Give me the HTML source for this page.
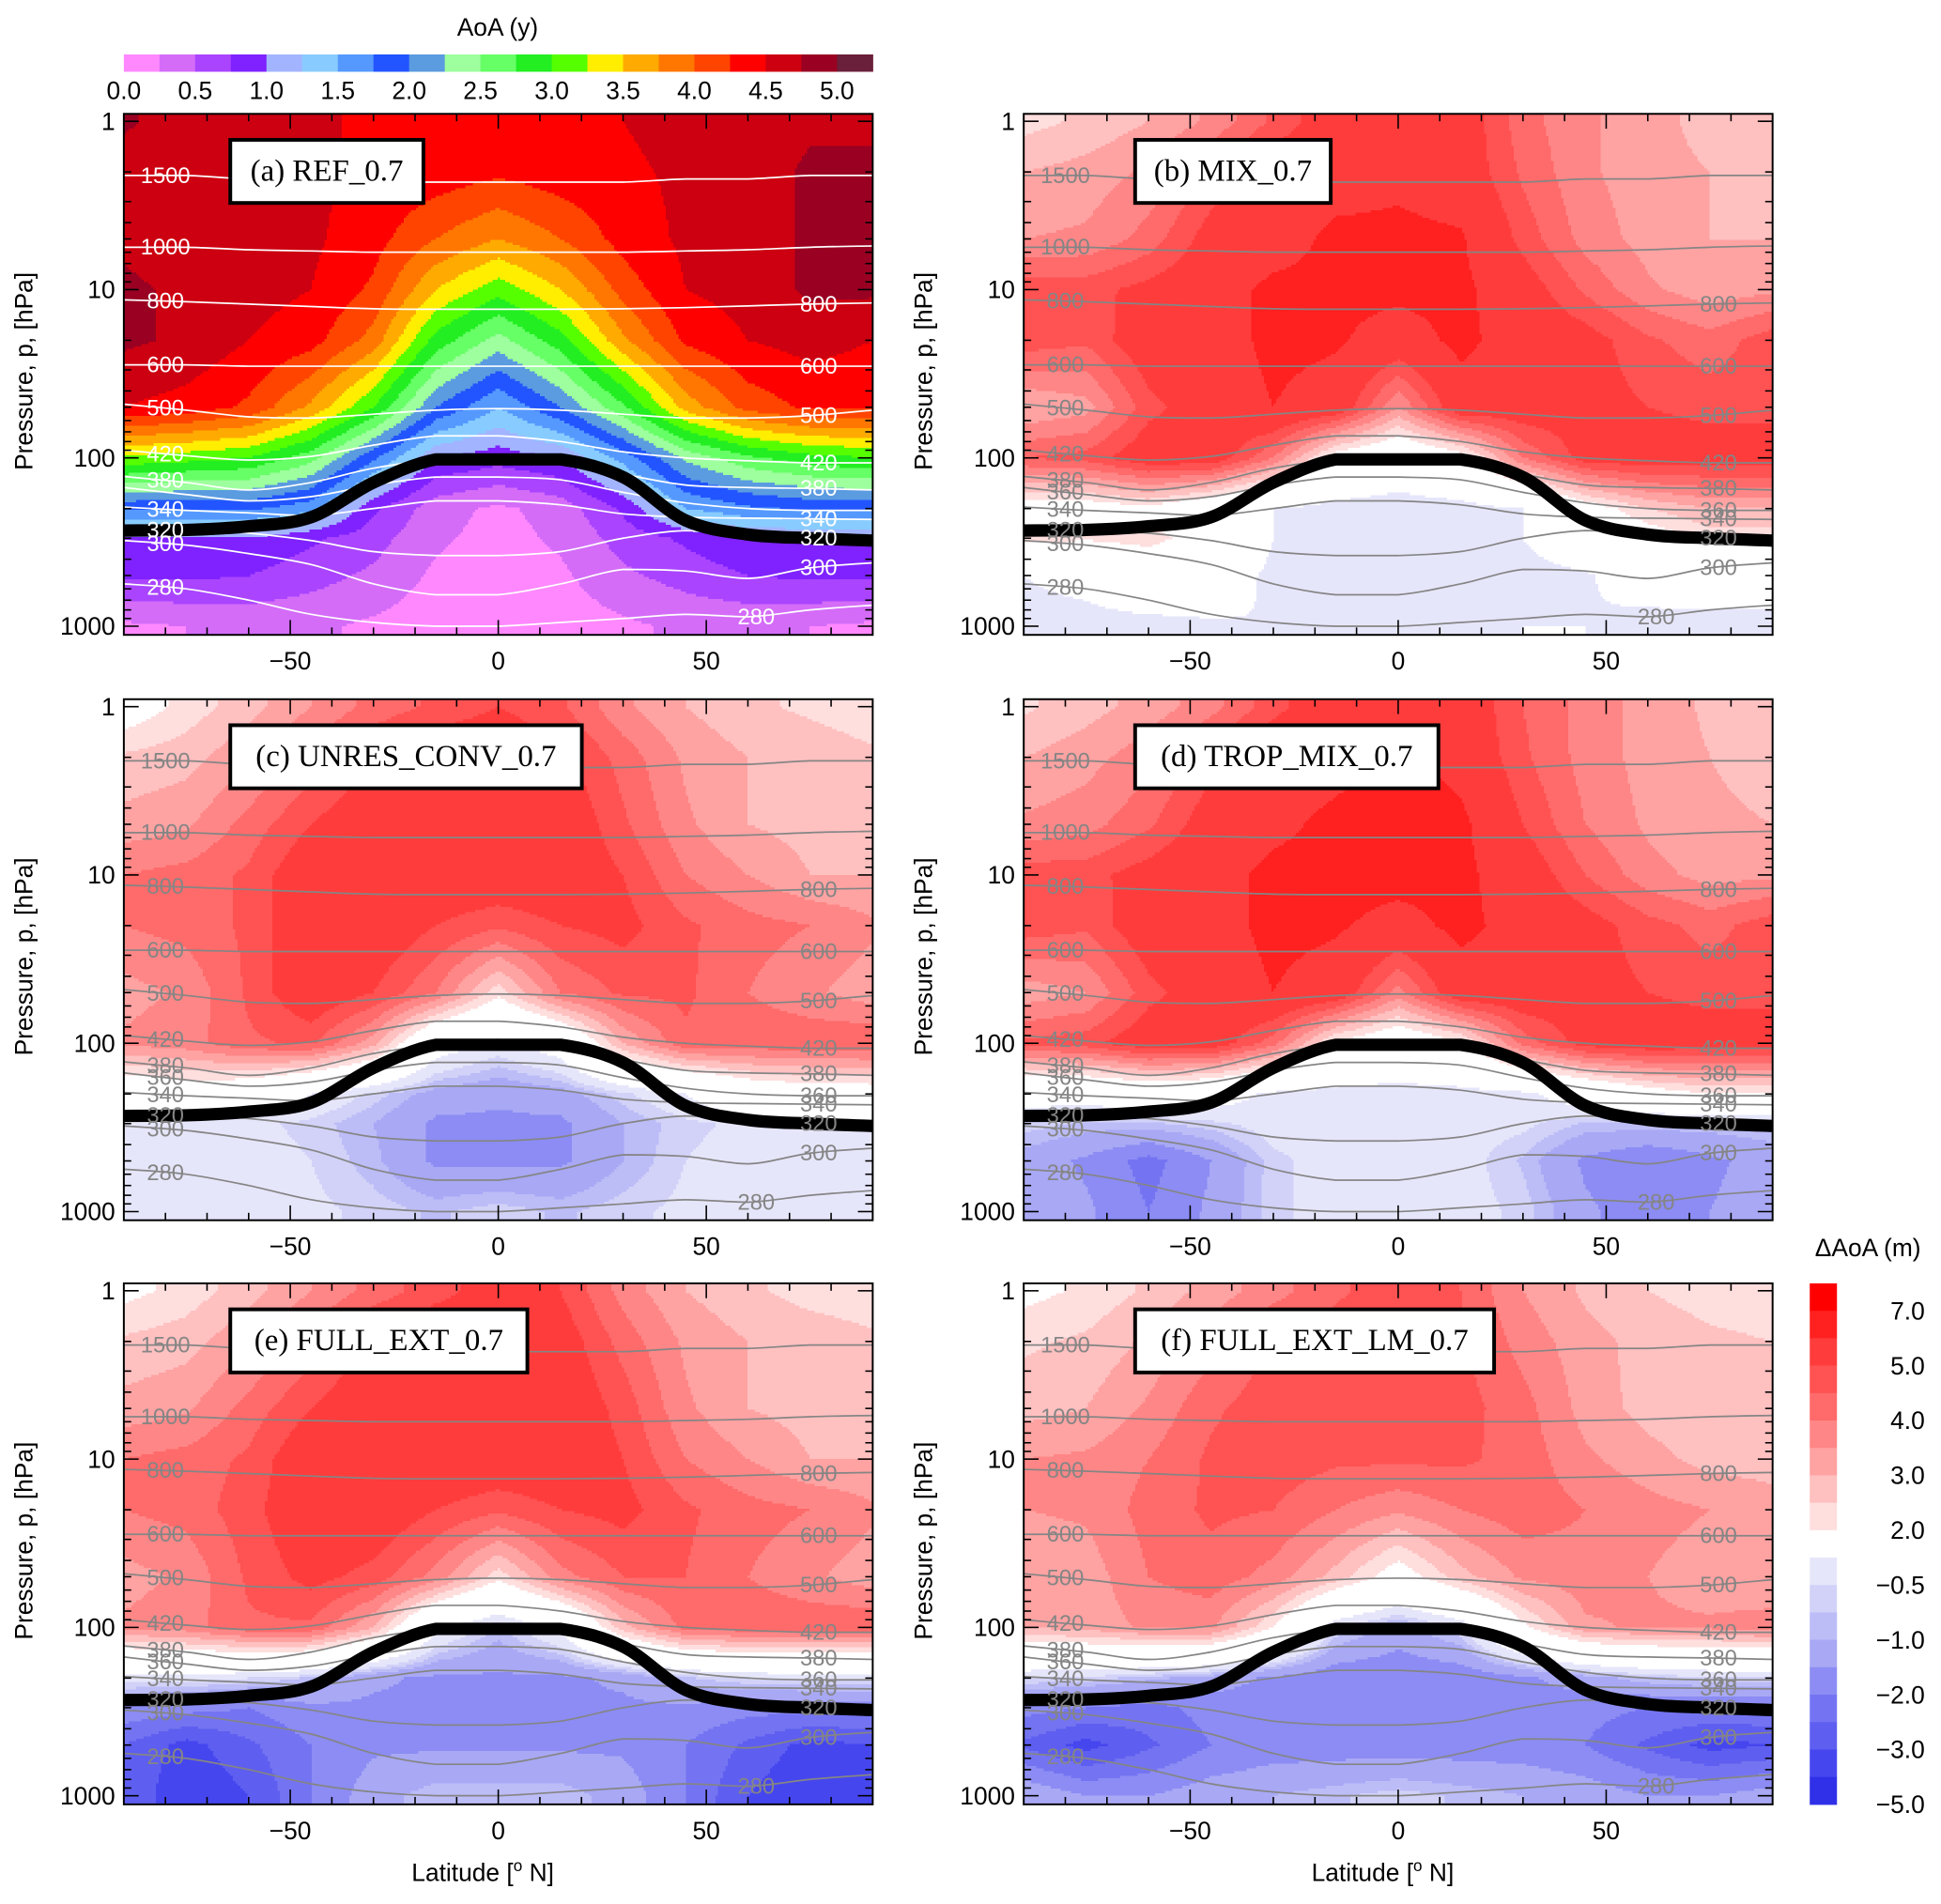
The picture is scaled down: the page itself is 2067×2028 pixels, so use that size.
<!DOCTYPE html>
<html><head><meta charset="utf-8"><style>
html,body{margin:0;padding:0;background:#fff;}
svg{display:block;font-family:"Liberation Sans",sans-serif;}
</style></head><body>
<svg id="fig" width="2067" height="2028" viewBox="0 0 1568 1538.5" xmlns="http://www.w3.org/2000/svg">
<defs></defs>
</svg>
<script>
const LATS=[-90,-75,-60,-45,-30,-15,0,15,30,45,60,75,90];
const PLEV=[1,2,5,10,20,50,100,200,300,500,1000];
const aoaGrid=[
[4.8,4.6,4.6,4.6,4.4,4.4,4.4,4.4,4.5,4.6,4.6,4.7,4.7],
[4.6,4.6,4.6,4.55,4.45,4.4,4.3,4.4,4.45,4.55,4.6,4.8,4.8],
[4.7,4.6,4.6,4.55,4.35,4.0,3.75,4.0,4.35,4.55,4.6,4.8,4.8],
[4.8,4.7,4.6,4.5,4.2,3.5,3.1,3.5,4.1,4.5,4.6,4.8,4.8],
[4.8,4.7,4.5,4.35,3.9,2.9,2.4,2.9,3.7,4.3,4.5,4.6,4.5],
[4.5,4.4,4.2,3.7,3.0,2.0,1.5,2.0,2.7,3.6,4.1,4.3,4.3],
[3.2,3.1,3.0,2.6,1.8,1.0,0.85,1.0,1.6,2.3,2.7,2.9,3.0],
[1.8,1.8,1.8,1.6,0.8,0.35,0.2,0.35,0.8,1.5,1.7,1.8,1.8],
[1.0,1.0,1.0,0.8,0.6,0.3,0.15,0.3,0.6,0.8,1.0,1.0,1.0],
[0.8,0.8,0.75,0.6,0.45,0.2,0.1,0.2,0.45,0.6,0.75,0.8,0.8],
[0.2,0.25,0.3,0.3,0.2,0.1,0.05,0.1,0.2,0.3,0.3,0.25,0.2]];
const gridB=[
[2.3,2.6,3.0,3.6,4.6,5.5,5.7,5.5,4.2,3.6,3.2,2.8,2.6],
[3.0,3.2,3.6,4.6,5.5,5.6,5.8,5.5,4.4,3.6,3.2,3.0,2.8],
[3.5,3.6,4.2,5.3,5.6,6.2,6.2,6.1,4.8,3.8,3.3,3.0,3.0],
[4.8,4.8,5.2,5.6,6.2,6.2,6.2,6.2,5.4,4.4,3.6,3.2,3.4],
[4.8,4.6,5.5,5.6,6.2,6.1,5.6,6.2,5.6,5.3,4.6,4.2,4.8],
[3.0,3.3,4.8,5.5,6.0,5.6,3.5,5.6,5.5,5.3,5.0,4.8,4.8],
[4.5,4.7,5.5,5.5,4.0,1.5,0.8,1.5,4.0,5.3,5.5,5.4,5.4],
[1.5,1.5,1.8,1.0,0,-0.3,-0.4,-0.3,0,1.5,2.5,3.0,3.0],
[2.3,2.1,2.3,1.5,0,-0.3,-0.4,-0.3,0,0.8,1.5,2.2,2.2],
[0,0.3,1.0,0.6,-0.2,-0.3,-0.4,-0.3,-0.3,-0.1,0.5,0.6,0.6],
[-0.3,-0.3,-0.3,-0.1,0,-0.2,-0.1,-0.2,0,0,-0.3,-0.3,-0.3]];
const gridC=[
[1.5,2.2,2.8,3.5,4.2,4.6,5.0,4.6,3.6,3.0,2.6,2.4,2.2],
[2.6,2.8,3.4,4.2,5.0,5.6,5.6,5.2,4.3,3.4,3.0,2.8,2.6],
[3.2,3.4,4.2,5.0,5.6,5.6,5.6,5.6,4.6,3.6,3.0,2.8,2.6],
[4.0,4.2,4.6,5.6,5.6,5.6,5.6,5.6,5.0,4.0,3.5,3.0,3.0],
[4.0,4.2,4.6,5.6,5.6,5.0,4.6,5.0,5.2,4.6,4.2,4.0,3.6],
[3.3,3.6,4.6,5.6,5.0,4.0,2.2,4.0,4.6,4.6,4.0,3.6,3.2],
[3.6,3.8,4.4,4.6,3.2,0.5,-0.2,0.5,3.0,4.4,4.4,4.4,4.5],
[1.0,1.3,1.0,0,-0.6,-1.2,-1.4,-1.2,-0.6,0,1.0,1.4,1.4],
[0,-0.2,-0.4,-0.6,-1.0,-1.6,-1.6,-1.6,-1.0,-0.6,-0.4,-0.2,-0.2],
[-0.3,-0.3,-0.3,-0.5,-0.9,-1.6,-1.6,-1.6,-1.0,-0.5,-0.3,-0.3,-0.3],
[-0.3,-0.3,-0.3,-0.4,-0.6,-0.8,-0.6,-0.8,-0.6,-0.4,-0.3,-0.3,-0.3]];
const gridD=[
[2.4,2.8,3.2,3.8,4.8,5.6,5.8,5.6,4.5,3.8,3.3,2.9,2.6],
[3.0,3.3,3.8,4.8,5.6,5.7,6.2,5.7,4.6,3.8,3.3,3.0,2.8],
[3.6,3.8,4.4,5.4,5.8,6.2,6.5,6.2,5.0,4.0,3.4,3.1,3.0],
[4.8,4.8,5.3,5.7,6.2,6.3,6.3,6.2,5.5,4.5,3.7,3.3,3.4],
[4.8,4.6,5.5,5.7,6.2,6.1,5.7,6.2,5.7,5.3,4.7,4.3,4.8],
[3.2,3.5,4.8,5.5,6.0,5.6,3.8,5.6,5.6,5.3,5.0,4.8,4.8],
[4.6,4.8,5.5,5.5,4.2,1.8,1.0,1.8,4.2,5.3,5.5,5.4,5.4],
[0.5,0.5,0.8,0.5,-0.2,-0.3,-0.3,-0.3,-0.2,0.6,1.5,2.0,2.0],
[-0.6,-0.8,-0.8,-0.6,-0.3,-0.3,-0.3,-0.3,-0.4,-0.8,-0.8,-0.8,-0.7],
[-1.2,-1.6,-2.2,-1.5,-0.6,-0.3,-0.3,-0.3,-0.8,-1.6,-2.0,-1.6,-1.3],
[-1.0,-1.4,-2.0,-1.4,-0.6,-0.3,-0.3,-0.3,-0.6,-1.4,-1.8,-1.5,-1.2]];
const gridE=[
[1.8,2.2,2.8,3.5,4.2,4.8,5.3,5.0,3.8,3.0,2.6,2.3,2.2],
[2.6,2.8,3.4,4.2,5.2,5.6,5.6,5.4,4.3,3.4,3.0,2.8,2.6],
[3.2,3.4,4.2,5.0,5.6,5.6,5.6,5.6,4.8,3.6,3.0,2.8,2.6],
[4.0,4.2,4.6,5.6,5.7,5.7,5.6,5.6,5.0,4.0,3.5,3.0,3.0],
[4.0,4.2,4.8,5.6,5.6,5.0,4.6,5.0,5.2,4.6,4.2,4.0,3.6],
[3.3,3.6,4.6,5.2,4.8,3.8,2.2,3.8,4.5,4.5,4.0,3.6,3.2],
[3.6,3.8,4.4,4.4,3.0,0.2,-0.8,0.2,2.8,4.2,4.4,4.4,4.5],
[-0.3,-0.3,-0.5,-0.8,-1.4,-1.6,-1.6,-1.6,-1.4,-0.8,-0.5,-0.4,-0.4],
[-1.6,-1.8,-2.0,-1.6,-1.6,-1.6,-1.6,-1.6,-1.6,-1.6,-1.8,-1.8,-1.8],
[-2.5,-3.2,-2.6,-2.0,-1.6,-1.6,-1.6,-1.6,-1.6,-2.0,-2.6,-3.2,-3.0],
[-2.5,-3.5,-3.0,-2.0,-1.2,-0.8,-0.8,-0.8,-1.2,-2.0,-3.0,-3.5,-3.0]];
const gridF=[
[1.8,2.1,2.6,3.2,3.8,4.4,4.8,4.5,3.5,2.9,2.5,2.3,2.2],
[2.4,2.6,3.1,3.8,4.6,4.8,4.8,4.6,3.8,3.2,2.8,2.6,2.5],
[2.8,3.0,3.6,4.4,4.8,4.8,4.8,4.7,4.2,3.3,2.8,2.6,2.5],
[3.5,3.6,4.0,4.6,4.8,4.6,4.6,4.6,4.3,3.6,3.2,2.8,2.8],
[3.5,3.6,4.2,4.6,4.5,4.0,3.6,4.0,4.3,4.0,3.7,3.5,3.2],
[3.0,3.2,4.0,4.3,3.8,2.8,1.5,2.8,3.6,3.8,3.5,3.2,3.0],
[3.0,3.2,3.6,3.6,2.0,-0.5,-1.2,-0.5,1.8,3.4,3.6,3.6,3.8],
[-0.5,-0.6,-0.9,-1.2,-1.6,-1.9,-1.9,-1.9,-1.6,-1.2,-0.8,-0.6,-0.6],
[-1.8,-2.0,-2.2,-1.8,-1.8,-1.8,-1.8,-1.8,-1.8,-1.8,-2.0,-2.0,-2.0],
[-2.6,-3.2,-2.6,-2.0,-1.8,-1.8,-1.8,-1.8,-1.8,-2.0,-2.6,-3.2,-3.0],
[-1.0,-1.5,-1.5,-1.2,-1.0,-0.8,-0.6,-0.8,-1.0,-1.2,-1.5,-1.5,-1.2]];
const thetaLevels=[1500,1000,800,600,500,420,380,360,340,320,300,280];
const thetaP=[
[2.1,2.1,2.2,2.2,2.3,2.3,2.3,2.3,2.3,2.2,2.2,2.1,2.1],
[5.6,5.6,5.8,5.9,6.0,6.0,6.0,6.0,6.0,5.9,5.8,5.6,5.5],
[11.5,11.8,12.2,12.6,13,13.1,13.1,13.1,13,12.8,12.5,12.2,12],
[28,28,28.5,28.5,28.5,28.5,28.5,28.5,28.5,28.5,28.5,28.5,28.5],
[48,52,57,58,55,52,51,52,55,58,58,56,52],
[90,97,103,98,84,74,74,80,92,100,104,107,107],
[129,140,155,140,115,103,103,108,125,145,150,152,155],
[150,165,180,170,145,130,130,135,160,185,200,205,205],
[196,205,212,220,200,180,180,190,215,225,228,230,232],
[263,270,280,310,360,380,380,360,300,270,285,300,310],
[310,330,370,430,560,650,650,560,460,470,520,450,420],
[560,600,700,850,950,1000,1000,950,900,850,880,800,750]];
const tropoP=[270,268,255,225,140,102,102,102,130,235,285,300,310];
const aoaTicks=["0.0","0.5","1.0","1.5","2.0","2.5","3.0","3.5","4.0","4.5","5.0"];
const dTicks=["7.0","5.0","4.0","3.0","2.0","\u22120.5","\u22121.0","\u22122.0","\u22123.0","\u22125.0"];
const aoaColors=["#ff88ff","#d46cf8","#aa44ff","#7f22ff","#a2b4ff","#88ccff","#5599ff","#2255ff","#5b9be0","#9dff9d","#66ff66","#22ee22","#55ff00","#ffee00","#ffaa00","#ff7700","#ff4400","#ff0000","#cc0011","#990022","#6a1f3a"];
const dColors=["#ff0000","#ff2020","#ff3c3c","#ff5252","#ff6a6a","#ff8686","#ffa2a2","#ffc0c0","#ffdede","#ffffff","#e6e6fb","#d2d2f8","#bcbcf7","#a8a8f5","#8c8cf4","#7474f2","#5e5ef0","#4646ef","#3030e8"];
const dBounds=[7,6,5,4.5,4,3.5,3,2.5,2,0,-0.5,-0.75,-1,-1.5,-2,-2.5,-3,-4];

const NS="http://www.w3.org/2000/svg";
const svg=document.getElementById("fig");
function mk(tag,attrs,parent){const e=document.createElementNS(NS,tag);for(const k in attrs)e.setAttribute(k,attrs[k]);(parent||svg).appendChild(e);return e;}
function txt(s,attrs,parent){const e=mk("text",attrs,parent);e.textContent=s;return e;}

const PW=605,PH=421;
function xS(x0,lat){return x0+(lat+90)/180*PW;}
function yS(y0,p){return y0+6+136*Math.log10(p);}
function sample(g,lat,p){
  let fi=(lat+90)/15; fi=Math.max(0,Math.min(12,fi));
  const lp=Math.log10(Math.max(1,Math.min(1000,p)));
  const L=PLEV.map(v=>Math.log10(v));
  let j=0; while(j<L.length-2&&lp>L[j+1])j++;
  let fj=(lp-L[j])/(L[j+1]-L[j]); fj=Math.max(0,Math.min(1,fj));
  const i=Math.min(11,Math.floor(fi)), fx=fi-i;
  const a=g[j][i]*(1-fx)+g[j][i+1]*fx, b=g[j+1][i]*(1-fx)+g[j+1][i+1]*fx;
  return a*(1-fj)+b*fj;
}
function aoaIdx(v){return Math.max(0,Math.min(20,Math.floor(v/0.25)));}
function dIdx(v){for(let k=0;k<dBounds.length;k++){if(v>=dBounds[k])return k;}return 18;}
function smoothPath(pts){
  let d="M"+pts[0][0].toFixed(1)+" "+pts[0][1].toFixed(1);
  for(let i=0;i<pts.length-1;i++){
    const p0=pts[Math.max(0,i-1)],p1=pts[i],p2=pts[i+1],p3=pts[Math.min(pts.length-1,i+2)];
    const lo=Math.min(p1[1],p2[1]),hi=Math.max(p1[1],p2[1]);
    const cl=v=>Math.max(lo,Math.min(hi,v));
    const c1=[p1[0]+(p2[0]-p0[0])/6,cl(p1[1]+(p2[1]-p0[1])/6)];
    const c2=[p2[0]-(p3[0]-p1[0])/6,cl(p2[1]-(p3[1]-p1[1])/6)];
    d+="C"+c1[0].toFixed(1)+" "+c1[1].toFixed(1)+" "+c2[0].toFixed(1)+" "+c2[1].toFixed(1)+" "+p2[0].toFixed(1)+" "+p2[1].toFixed(1);
  }
  return d;
}

const panels=[
 {id:"a",x0:100,y0:92,grid:aoaGrid,abs:true,title:"(a) REF_0.7",bx:186,bw:156},
 {id:"b",x0:827,y0:92,grid:gridB,abs:false,title:"(b) MIX_0.7",bx:917,bw:158},
 {id:"c",x0:100,y0:565,grid:gridC,abs:false,title:"(c) UNRES_CONV_0.7",bx:186,bw:284},
 {id:"d",x0:827,y0:565,grid:gridD,abs:false,title:"(d) TROP_MIX_0.7",bx:917,bw:245},
 {id:"e",x0:100,y0:1037,grid:gridE,abs:false,title:"(e) FULL_EXT_0.7",bx:186,bw:240},
 {id:"f",x0:827,y0:1037,grid:gridF,abs:false,title:"(f) FULL_EXT_LM_0.7",bx:917,bw:290}];

panels.forEach(P=>{
  const g=mk("g",{});
  
  
  const cid="clip"+P.id;
  const cp=mk("clipPath",{id:cid},g); mk("rect",{x:P.x0,y:P.y0,width:PW,height:PH},cp);
  const field=mk("g",{"clip-path":"url(#"+cid+")","shape-rendering":"crispEdges"},g);
  
  
  const step=2;
  const cols=(P.abs?aoaColors:dColors);
  for(let yy=P.y0;yy<P.y0+PH;yy+=step){
    const p=Math.pow(10,(yy+step/2-P.y0-6)/136);
    let runStart=P.x0,runIdx=-1;
    const xEnd=P.x0+PW;
    for(let xx=P.x0;xx<xEnd;xx+=step){
      const lat=(xx+step/2-P.x0)/PW*180-90;const v=sample(P.grid,lat,p);
      const idx=P.abs?aoaIdx(v):dIdx(v);
      if(idx!==runIdx){
        if(runIdx>=0){mk("rect",{x:runStart,y:yy,width:xx-runStart+0.6,height:step+0.6,fill:cols[runIdx]},field);}
        runStart=xx;runIdx=idx;
      }
    }
    mk("rect",{x:runStart,y:yy,width:xEnd-runStart+1,height:step+0.6,fill:cols[runIdx]},field);
  }
  const lc=P.abs?"#ffffff":"#858585";
  thetaLevels.forEach((th,k)=>{
    const pts=LATS.map((lat,i)=>[xS(P.x0,lat),yS(P.y0,thetaP[k][i])]);
    const pl=mk("path",{d:smoothPath(pts),fill:"none",stroke:lc,"stroke-width":1.3,"clip-path":"url(#"+cid+")"},g);
    
    
  });
  const tpts=LATS.map((lat,i)=>[xS(P.x0,lat),yS(P.y0,tropoP[i])]);
  const tp=mk("path",{d:smoothPath(tpts),fill:"none",stroke:"#000","stroke-width":10,"stroke-linejoin":"round","clip-path":"url(#"+cid+")"},g);
  
  
  thetaLevels.forEach((th,k)=>{
    if(P.abs&&th===360)return;
    const leftLat=-80;
    const yl=yS(P.y0,Math.exp((Math.log(thetaP[k][0])+2*Math.log(thetaP[k][1]))/3));
    const t1=txt(String(th),{x:xS(P.x0,leftLat),y:yl+6,"text-anchor":"middle","font-size":18,fill:lc},g);
    
    
    if(th<=800){
      const rl=(th>=300)?77:62;
      const ii=Math.round((rl+90)/15);
      const yr=yS(P.y0,thetaP[k][ii]);
      const t2=txt(String(th),{x:xS(P.x0,rl),y:yr+6,"text-anchor":"middle","font-size":18,fill:lc},g);
      
      
    }
  });
  mk("rect",{x:P.x0,y:P.y0,width:PW,height:PH,fill:"none",stroke:"#000","stroke-width":1.5},g);
  for(let dec=1;dec<=1000;dec*=10){
    for(let m=1;m<=9;m++){
      const p=dec*m; if(p>1000)break;
      const y=yS(P.y0,p); const len=(m===1)?12:6;
      mk("line",{x1:P.x0,x2:P.x0+len,y1:y,y2:y,stroke:"#000","stroke-width":1.2},g);
      mk("line",{x1:P.x0+PW,x2:P.x0+PW-len,y1:y,y2:y,stroke:"#000","stroke-width":1.2},g);
    }
  }
  ["1","10","100","1000"].forEach((s,i)=>{
    const t=txt(s,{x:P.x0-7,y:yS(P.y0,Math.pow(10,i))+7,"text-anchor":"end","font-size":20,fill:"#000"},g);
    
    
  });
  for(let lat=-80;lat<=80;lat+=10){
    const x=xS(P.x0,lat); const len=(lat%50===0)?12:6;
    mk("line",{x1:x,x2:x,y1:P.y0+PH,y2:P.y0+PH-len,stroke:"#000","stroke-width":1.2},g);
    mk("line",{x1:x,x2:x,y1:P.y0,y2:P.y0+len,stroke:"#000","stroke-width":1.2},g);
  }
  [["\u221250",-50],["0",0],["50",50]].forEach(a=>{
    const t=txt(a[0],{x:xS(P.x0,a[1]),y:P.y0+PH+28,"text-anchor":"middle","font-size":20,fill:"#000"},g);
    
    
  });
  const yt=txt("Pressure, p, [hPa]",{x:0,y:0,transform:"translate("+(P.x0-74)+","+(P.y0+208)+") rotate(-90)","text-anchor":"middle","font-size":20,fill:"#000"},g);
  
  
  const bg=mk("g",{},g);
  
  
  mk("rect",{x:P.bx,y:P.y0+21,width:P.bw,height:51,fill:"#fff",stroke:"#000","stroke-width":3},bg);
  txt(P.title,{x:P.bx+P.bw/2,y:P.y0+54,"text-anchor":"middle","font-size":25,"font-family":"Liberation Serif, serif",fill:"#000"},bg);
});

[390,1117].forEach(x=>{
  const t=mk("text",{x:x,y:1520,"text-anchor":"middle","font-size":20,fill:"#000"});
  
  
  t.innerHTML='Latitude [<tspan dy="-8" font-size="13">o</tspan><tspan dy="8"> N]</tspan>';
});

const cb=mk("g",{});


const bw=605/21;
aoaColors.forEach((c,i)=>{mk("rect",{x:100+i*bw,y:44,width:bw+0.4,height:14,fill:c},cb);});
aoaTicks.forEach((s,i)=>{
  const t=txt(s,{x:100+i*2*bw,y:80,"text-anchor":"middle","font-size":20,fill:"#000"},cb);
  
  
});
const ct=txt("AoA (y)",{x:402,y:29,"text-anchor":"middle","font-size":20,fill:"#000"},cb);



const db=mk("g",{});


const bh=421/19;
dColors.forEach((c,i)=>{mk("rect",{x:1462,y:1037+i*bh,width:22,height:bh+0.4,fill:c},db);});
dTicks.forEach((s,i)=>{
  const t=txt(s,{x:1555,y:1037+(2*i+1)*bh+7,"text-anchor":"end","font-size":20,fill:"#000"},db);
  
  
});
const dt=txt("\u0394AoA (m)",{x:1509,y:1015,"text-anchor":"middle","font-size":20,fill:"#000"},db);


</script>
</body></html>
